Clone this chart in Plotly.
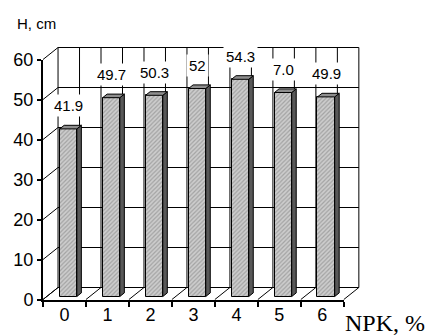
import plotly.graph_objects as go

# NPK dose (%) and plant height (cm)
doses = ["0", "1", "2", "3", "4", "5", "6"]
heights = [41.9, 49.7, 50.3, 52.0, 54.3, 51.0, 49.9]
value_labels = ["41.9", "49.7", "50.3", "52", "54.3", "7.0", "49.9"]
y_ticks = [0, 10, 20, 30, 40, 50, 60]

# oblique "3-D" projection: depth 1 shifts by DX categories and DY cm
DX, DY = 0.35, 3.0
D_FRONT, D_BACK = 0.25, 0.55   # depth span of each bar
HALF_W = 0.2                   # half width of a bar in category units
LABEL_GAP = 6.5                # value label centre above bar top (cm)

n = len(doses)
X_MAX = n + DX + 0.05
Y_MIN = -0.125                 # half-pixel shift keeps 1px wall lines crisp
Y_MAX = y_ticks[-1] + DY + 0.5 + Y_MIN

FONT = "Arial, Liberation Sans, sans-serif"
SERIF = "Times New Roman, Liberation Serif, serif"

fig = go.Figure()

# ---- walls and floor of the box (behind the bars) ----
shapes = []


def seg(x0, y0, x1, y1):
    shapes.append(dict(type="line", xref="x2", yref="y2", x0=x0, y0=y0,
                       x1=x1, y1=y1, layer="below",
                       line=dict(color="black", width=1)))


for v in y_ticks:
    seg(DX, v + DY, n + DX, v + DY)          # back wall horizontals
    seg(0, v, DX, v + DY)                    # left wall diagonals
for k in range(2 * n + 1):
    seg(DX + k / 2, DY, DX + k / 2, y_ticks[-1] + DY)  # back wall verticals
for k in range(n + 1):
    seg(k, 0, k + DX, DY)                    # floor diagonals

# ---- bars: front face ----
centers = [k + 0.5 for k in range(n)]
fig.add_trace(go.Bar(
    x=[c + D_FRONT * DX for c in centers], y=heights, base=D_FRONT * DY,
    width=2 * HALF_W, xaxis="x2", yaxis="y2", showlegend=False,
    marker=dict(color="#c4c4c4",
                line=dict(color="black", width=1),
                pattern=dict(shape="/", fgcolor="#777777", bgcolor="#cdcdcd",
                             size=3, solidity=0.4)),
))

# ---- bars: right side and top faces ----
side_x, side_y, top_x, top_y = [], [], [], []
for c, v in zip(centers, heights):
    x0, x1 = c - HALF_W, c + HALF_W
    side_x += [x1 + D_FRONT * DX, x1 + D_BACK * DX, x1 + D_BACK * DX,
               x1 + D_FRONT * DX, x1 + D_FRONT * DX, None]
    side_y += [D_FRONT * DY, D_BACK * DY, v + D_BACK * DY,
               v + D_FRONT * DY, D_FRONT * DY, None]
    top_x += [x0 + D_FRONT * DX, x1 + D_FRONT * DX, x1 + D_BACK * DX,
              x0 + D_BACK * DX, x0 + D_FRONT * DX, None]
    top_y += [v + D_FRONT * DY, v + D_FRONT * DY, v + D_BACK * DY,
              v + D_BACK * DY, v + D_FRONT * DY, None]

fig.add_trace(go.Scatter(x=side_x, y=side_y, mode="lines", fill="toself",
                         fillcolor="#585858", line=dict(color="black", width=1),
                         xaxis="x2", yaxis="y2", showlegend=False,
                         hoverinfo="skip"))
fig.add_trace(go.Scatter(x=top_x, y=top_y, mode="lines", fill="toself",
                         fillcolor="#8e8e8e", line=dict(color="black", width=1),
                         xaxis="x2", yaxis="y2", showlegend=False,
                         hoverinfo="skip"))

# placeholder so the front axes subplot is drawn
fig.add_trace(go.Scatter(x=[None], y=[None], xaxis="x", yaxis="y",
                         showlegend=False, hoverinfo="skip"))

# ---- value labels ----
annotations = []
for c, v, t in zip(centers, heights, value_labels):
    annotations.append(dict(x=c + D_FRONT * DX, y=v + LABEL_GAP, xref="x2",
                            yref="y2", text=t, showarrow=False,
                            bgcolor="white", borderpad=2,
                            font=dict(family=FONT, size=15, color="black")))
annotations.append(dict(x=15, y=24, xref="paper", yref="paper", text="H, cm",
                        showarrow=False, xanchor="left", yanchor="middle",
                        font=dict(family=FONT, size=15, color="black")))
annotations.append(dict(x=343, y=323, xref="paper", yref="paper",
                        text="NPK, %", showarrow=False, xanchor="left",
                        yanchor="middle",
                        font=dict(family=SERIF, size=24, color="black")))

W, H = 432, 336
ML, MR, MT, MB = 43, 71, 46, 36
pw, ph = W - ML - MR, H - MT - MB
for a in annotations[-2:]:
    a["x"] = (a["x"] - ML) / pw
    a["y"] = (H - MB - a["y"]) / ph

fig.update_layout(
    width=W, height=H,
    margin=dict(l=ML, r=MR, t=MT, b=MB, pad=0, autoexpand=False),
    paper_bgcolor="white", plot_bgcolor="white",
    bargap=0, showlegend=False,
    shapes=shapes, annotations=annotations,
    xaxis=dict(domain=[0, n / X_MAX], range=[0, n], anchor="y",
               automargin=False,
               showline=True, linewidth=2, linecolor="black",
               showgrid=False, zeroline=False,
               tickmode="array", tickvals=centers, ticktext=doses,
               ticks="outside", ticklen=1, tickcolor="rgba(0,0,0,0)",
               ticklabelstandoff=-4,
               tickfont=dict(family=FONT, size=18, color="black"),
               minor=dict(tickmode="array", tickvals=list(range(n + 1)),
                          ticks="outside", ticklen=5, tickwidth=2,
                          tickcolor="black", showgrid=False)),
    yaxis=dict(domain=[0, y_ticks[-1] / (Y_MAX - Y_MIN)],
               range=[0, y_ticks[-1]], automargin=False,
               anchor="x", showline=True, linewidth=2, linecolor="black",
               showgrid=False, zeroline=False,
               tickmode="array", tickvals=y_ticks,
               ticks="outside", ticklen=4, tickwidth=2, tickcolor="black",
               tickfont=dict(family=FONT, size=18, color="black")),
    xaxis2=dict(domain=[0, 1], range=[0, X_MAX], anchor="y2", visible=False,
                automargin=False),
    yaxis2=dict(domain=[0, 1], range=[Y_MIN, Y_MAX], anchor="x2",
                visible=False, automargin=False),
)

fig.write_html("out.html")
